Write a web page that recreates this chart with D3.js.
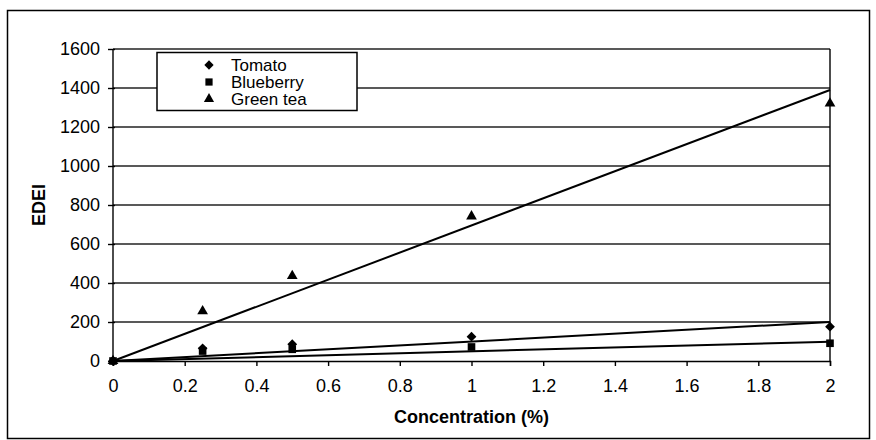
<!DOCTYPE html>
<html>
<head>
<meta charset="utf-8">
<script src="https://cdn.jsdelivr.net/npm/d3@7"></script>
<style>
  body { margin: 0; background: #fff; }
  text { font-family: "Liberation Sans", Arial, sans-serif; fill: #000; }
</style>
</head>
<body>
<div id="chart"></div>
<script>
// chart data
const concentrations = [0, 0.25, 0.5, 1, 2];
const seriesNames = ['Tomato', 'Blueberry', 'Green tea'];
const tomato = [0, 65, 86, 125, 176];
const blueberry = [0, 51, 60, 72, 91];
const greenTea = [0, 256, 436, 742, 1321];
// linear trend lines through the origin, value at x = 2
const trendEnd = [200, 99, 1390];
const xTicks = [0, 0.2, 0.4, 0.6, 0.8, 1, 1.2, 1.4, 1.6, 1.8, 2];
const yTicks = [0, 200, 400, 600, 800, 1000, 1200, 1400, 1600];

const width = 876, height = 440;
const margin = {top: 49, right: 46, bottom: 79, left: 113};
const drawWidth = width - margin.left - margin.right;
const drawHeight = height - margin.top - margin.bottom;

const svg = d3.select('#chart').append('svg')
    .attr('width', width)
    .attr('height', height);

// outer frame
svg.append('rect')
    .attr('x', 7.5).attr('y', 10.5)
    .attr('width', 862).attr('height', 428)
    .attr('fill', 'none').attr('stroke', '#000').attr('stroke-width', 1.5);

const xScale = d3.scaleLinear().domain([0, 2]).range([0, drawWidth]);
const yScale = d3.scaleLinear().domain([0, 1600]).range([drawHeight, 0]);

const g = svg.append('g')
    .attr('transform', `translate(${margin.left},${margin.top})`);

// gridlines
g.selectAll('.grid').data(yTicks.slice(1)).enter()
    .append('line')
    .attr('x1', 0).attr('x2', drawWidth)
    .attr('y1', d => yScale(d)).attr('y2', d => yScale(d))
    .attr('stroke', '#222').attr('stroke-width', 1.4);

// right border of plot area
g.append('line')
    .attr('x1', drawWidth).attr('x2', drawWidth)
    .attr('y1', 0).attr('y2', drawHeight)
    .attr('stroke', '#000').attr('stroke-width', 1.4);

// axes
const xAxis = d3.axisBottom(xScale).tickValues(xTicks)
    .tickFormat(d3.format('~g')).tickSize(5).tickPadding(13);
const yAxis = d3.axisLeft(yScale).tickValues(yTicks)
    .tickFormat(d3.format('d')).tickSize(5).tickPadding(8);

const xg = g.append('g').attr('transform', `translate(0,${drawHeight})`).call(xAxis);
const yg = g.append('g').call(yAxis);
[xg, yg].forEach(a => {
    a.select('.domain').attr('stroke', '#000').attr('stroke-width', 1.4);
    a.selectAll('.tick line').attr('stroke', '#000').attr('stroke-width', 1.4);
    a.selectAll('text').style('font-size', '18px').style('font-family', '"Liberation Sans", Arial, sans-serif');
});
yg.select('.domain').attr('d', `M0,${drawHeight}V0`);
yg.selectAll('.tick line').attr('x1', 2);

// trend lines
const series = [tomato, blueberry, greenTea];
g.selectAll('.trend').data(trendEnd).enter()
    .append('line')
    .attr('x1', xScale(0)).attr('y1', yScale(0))
    .attr('x2', xScale(2)).attr('y2', d => yScale(d))
    .attr('stroke', '#000').attr('stroke-width', 2);

// markers: diamond is a square turned 45 degrees
const symbols = [d3.symbolSquare, d3.symbolSquare, d3.symbolTriangle];
const sizes = [48, 58, 50];
const rotations = [45, 0, 0];
series.forEach((vals, i) => {
    g.selectAll('.pt' + i).data(vals).enter()
        .append('path')
        .attr('d', d3.symbol().type(symbols[i]).size(sizes[i]))
        .attr('transform', (d, j) => `translate(${xScale(concentrations[j])},${yScale(d)}) rotate(${rotations[i]})`)
        .attr('fill', '#000');
});

// axis titles
svg.append('text')
    .attr('x', margin.left + drawWidth / 2).attr('y', 423)
    .attr('text-anchor', 'middle')
    .style('font-size', '18px').style('font-weight', 'bold')
    .text('Concentration (%)');

svg.append('text')
    .attr('transform', `translate(45,${margin.top + drawHeight / 2}) rotate(-90)`)
    .attr('text-anchor', 'middle')
    .style('font-size', '18px').style('font-weight', 'bold')
    .text('EDEI');

// legend
const legend = svg.append('g');
legend.append('rect')
    .attr('x', 157).attr('y', 52.5)
    .attr('width', 200).attr('height', 58)
    .attr('fill', '#fff').attr('stroke', '#000').attr('stroke-width', 1.5);
seriesNames.forEach((name, i) => {
    const cy = 65 + i * 17;
    legend.append('path')
        .attr('d', d3.symbol().type(symbols[i]).size(sizes[i] * 0.9))
        .attr('transform', `translate(209,${cy}) rotate(${rotations[i]})`)
        .attr('fill', '#000');
    legend.append('text')
        .attr('x', 231).attr('y', cy + 6)
        .style('font-size', '17px')
        .text(name);
});
</script>
</body>
</html>
